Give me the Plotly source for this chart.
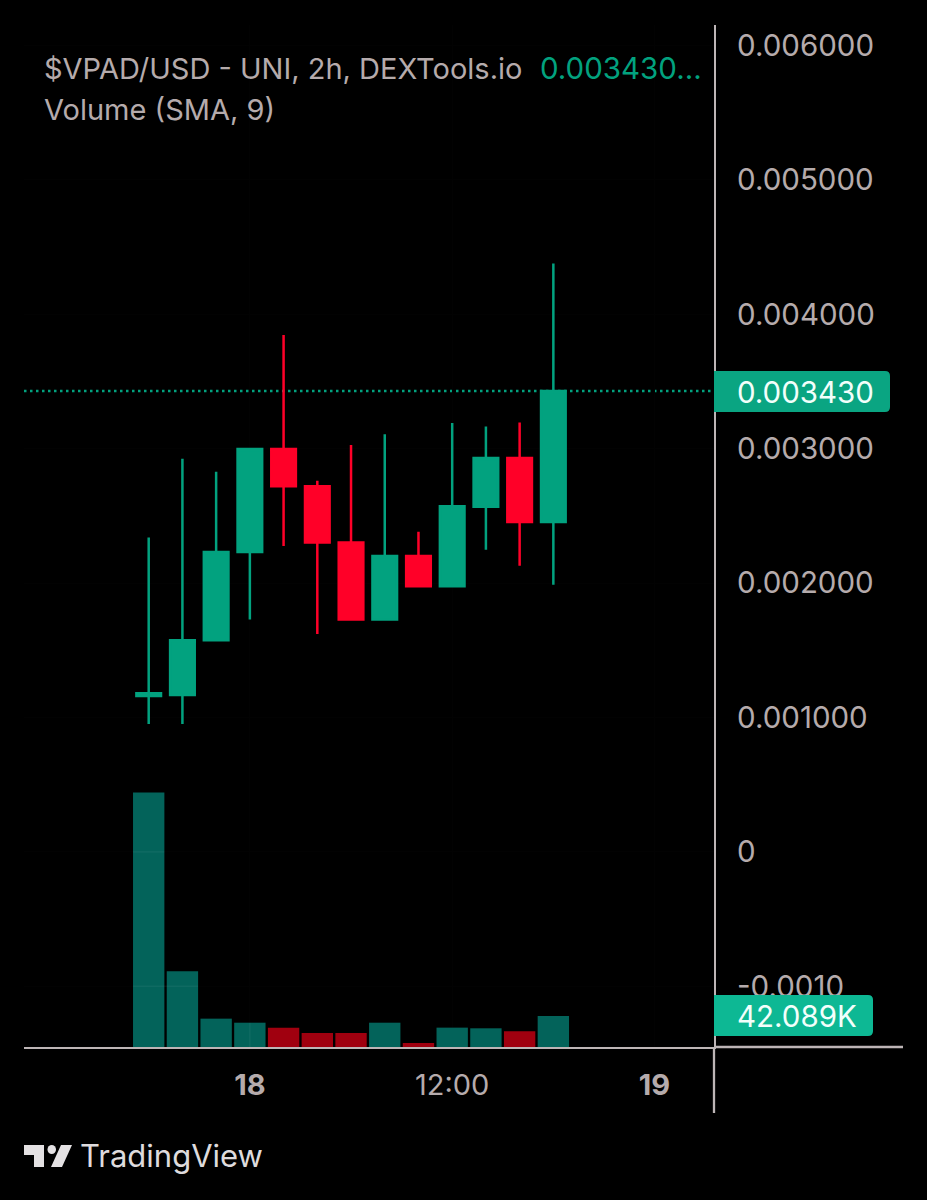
import plotly.graph_objects as go

# hours relative to midnight on the 18th, one candle every 2h
hours = [-6, -4, -2, 0, 2, 4, 6, 8, 10, 12, 14, 16, 18]
opens = [0.001160, 0.001167, 0.001574, 0.002231, 0.002998, 0.002720, 0.002303, 0.001730, 0.002202, 0.001976, 0.002568, 0.002931, 0.002455]
highs = [0.002340, 0.002926, 0.002829, 0.002998, 0.003846, 0.002762, 0.003028, 0.003107, 0.002383, 0.003191, 0.003166, 0.003196, 0.004379]
lows = [0.000952, 0.000952, 0.001574, 0.001730, 0.002276, 0.001621, 0.001730, 0.001730, 0.001976, 0.001976, 0.002249, 0.002130, 0.001988]
closes = [0.001180, 0.001574, 0.002231, 0.002998, 0.002720, 0.002303, 0.001730, 0.002202, 0.001976, 0.002571, 0.002931, 0.002455, 0.003430]
volumes = [345800, 103000, 38500, 33000, 26300, 19000, 19000, 33000, 5400, 26300, 25400, 21300, 42089]

price_ticks = [-0.001, 0, 0.001, 0.002, 0.003, 0.004, 0.005, 0.006]
price_labels = ["-0.0010", "0", "0.001000", "0.002000", "0.003000", "0.004000", "0.005000", "0.006000"]
time_ticks = [0, 12, 24]
time_labels = ["<b>18</b>", "12:00", "<b>19</b>"]
last_price = 0.003430

GREEN = "#02A27F"
RED = "#FF0028"
VOL_GREEN = "#03635A"
VOL_RED = "#A0000F"
AXIS = "#BDB5B6"
LABEL = "#B5ABAC"
FONT = "Inter, Roboto, sans-serif"

# plot area in page pixels
LEFT, RIGHT, TOP, BOTTOM = 24, 714, 25, 1047


def px(x):
    return (x - LEFT) / (RIGHT - LEFT)


def py(y):
    return (BOTTOM - y) / (BOTTOM - TOP)


def page_path(points):
    return "M " + " L ".join(f"{px(x)},{py(y)}" for x, y in points) + " Z"


def tag_path(x0, x1, y0, y1, r=5):
    # right hand corners rounded, left side sits on the axis
    return (
        f"M {px(x0)},{py(y0)} L {px(x1 - r)},{py(y0)} "
        f"Q {px(x1)},{py(y0)} {px(x1)},{py(y0 + r)} "
        f"L {px(x1)},{py(y1 - r)} Q {px(x1)},{py(y1)} {px(x1 - r)},{py(y1)} "
        f"L {px(x0)},{py(y1)} Z"
    )


fig = go.Figure()

fig.add_trace(go.Bar(
    x=hours,
    y=volumes,
    yaxis="y2",
    width=1.86,
    marker_color=[VOL_GREEN if c >= o else VOL_RED for o, c in zip(opens, closes)],
    marker_line_width=0,
))

fig.add_trace(go.Candlestick(
    x=hours,
    open=opens,
    high=highs,
    low=lows,
    close=closes,
    whiskerwidth=0,
    increasing=dict(line=dict(color=GREEN, width=2.5), fillcolor=GREEN),
    decreasing=dict(line=dict(color=RED, width=2.5), fillcolor=RED),
))

fig.update_layout(
    width=927,
    height=1200,
    margin=dict(l=LEFT, r=927 - RIGHT, t=TOP, b=1200 - BOTTOM, autoexpand=False),
    paper_bgcolor="#000000",
    plot_bgcolor="#000000",
    showlegend=False,
    boxgap=0.27,
    boxgroupgap=0,
    font=dict(family=FONT, color=LABEL),
    xaxis=dict(
        range=[-13.396, 27.528],
        rangeslider_visible=False,
        tickmode="array",
        tickvals=time_ticks,
        ticktext=time_labels,
        tickfont=dict(size=29, color=LABEL),
        ticks="",
        ticklabelstandoff=11,
        showline=True,
        linecolor=AXIS,
        linewidth=2.3,
        showgrid=True,
        gridcolor="#020202",
        zeroline=False,
    ),
    yaxis=dict(
        side="right",
        range=[-0.001452, 0.006153],
        tickmode="array",
        tickvals=price_ticks,
        ticktext=price_labels,
        tickfont=dict(size=29.5, color=LABEL),
        ticks="",
        ticklabelstandoff=15,
        showline=True,
        linecolor=AXIS,
        linewidth=2.3,
        showgrid=True,
        gridcolor="#020202",
        zeroline=False,
    ),
    yaxis2=dict(
        overlaying="y",
        range=[0, 1388000],
        visible=False,
    ),
)

# last price line
fig.add_hline(y=last_price, line=dict(color=GREEN, width=2.5, dash="2.5px,3.5px"), layer="below")

# the faint grid only shows where it crosses the volume bars
for v, last_bar in zip(price_ticks[:2], [hours[1], hours[0]]):
    fig.add_shape(type="line", xref="x", yref="y", x0=hours[0] - 0.93, x1=last_bar + 0.93, y0=v, y1=v,
                  line=dict(color="rgba(255,255,255,0.05)", width=1.5), layer="above")
fig.add_shape(type="line", xref="x", yref="y2", x0=time_ticks[0], x1=time_ticks[0], y0=0, y1=volumes[3],
              line=dict(color="rgba(255,255,255,0.05)", width=1.5), layer="above")

page_shapes = [
    # axis lines running past the plot area
    dict(type="line", x0=px(RIGHT), x1=px(903), y0=py(BOTTOM), y1=py(BOTTOM), line=dict(color=AXIS, width=2.3)),
    dict(type="line", x0=px(RIGHT), x1=px(RIGHT), y0=py(BOTTOM), y1=py(1113), line=dict(color=AXIS, width=2.3)),
    # price and volume tags
    dict(type="path", path=tag_path(RIGHT, 890, 371, 412), fillcolor="#0AA582", line_width=0),
    dict(type="path", path=tag_path(RIGHT, 873, 995, 1036), fillcolor="#0DB894", line_width=0),
    # TradingView logo
    dict(type="path", path=page_path([(24, 1145), (44, 1145), (44, 1167), (34, 1167), (34, 1155), (24, 1155)]),
         fillcolor="#E4E1E3", line_width=0),
    dict(type="circle", x0=px(47.5), x1=px(56), y0=py(1145), y1=py(1154), fillcolor="#E4E1E3", line_width=0),
    dict(type="path", path=page_path([(61, 1145), (72, 1145), (62, 1167), (51, 1167)]),
         fillcolor="#E4E1E3", line_width=0),
]
for s in page_shapes:
    fig.add_shape(xref="paper", yref="paper", layer="above", **s)


def page_text(x, y, text, size, color, anchor="left"):
    fig.add_annotation(
        xref="paper", yref="paper", x=px(x), y=py(y), text=text, showarrow=False,
        xanchor=anchor, yanchor="middle", borderpad=0,
        font=dict(family=FONT, size=size, color=color),
    )


page_text(43, 68, "$VPAD/USD - UNI, 2h, DEXTools.io", 29, LABEL)
page_text(539, 68, "0.003430...", 29.5, GREEN)
page_text(43, 110, "Volume (SMA, 9)", 29, LABEL)
page_text(736, 392, "0.003430", 29.5, "#F2FFFB")
page_text(736, 1016, "42.089K", 29.5, "#F2FFFB")
page_text(79, 1155, "TradingView", 31, "#DEDBDD")

# drop the default page margin so the figure fills the window
fig.write_html(
    "out.html",
    config={"displayModeBar": False},
    post_script="document.body.style.margin='0';document.body.style.background='#000';",
)
